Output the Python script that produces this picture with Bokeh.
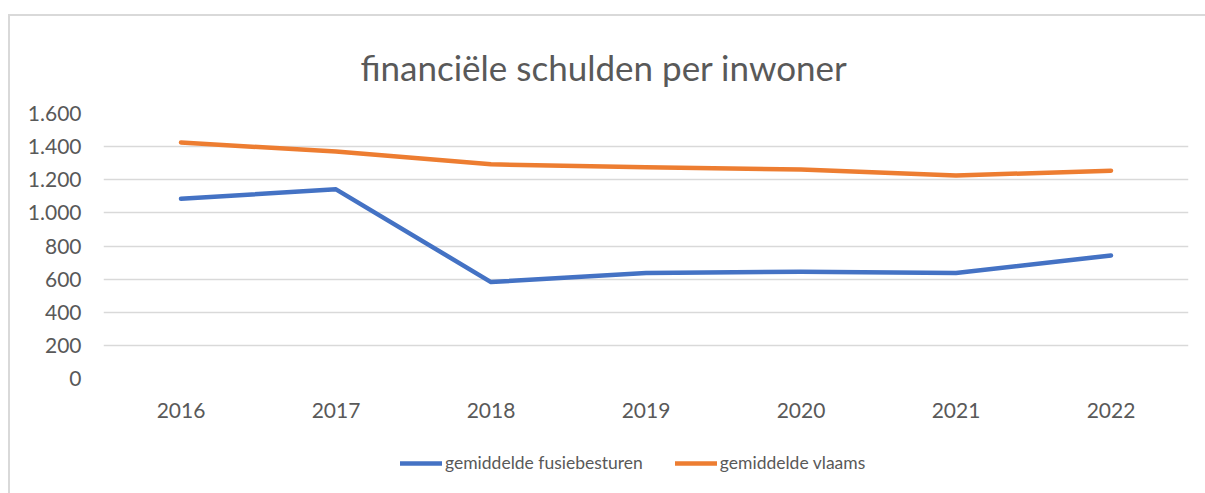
from bokeh.plotting import figure
from bokeh.layouts import column
from bokeh.models import Range1d, FixedTicker, Legend, LegendItem, ColumnDataSource
from bokeh.embed import file_html
from bokeh.resources import INLINE

# ---- data ----
years = ["2016", "2017", "2018", "2019", "2020", "2021", "2022"]
fusie = [1085, 1142, 582, 637, 645, 637, 743]
vlaams = [1425, 1370, 1293, 1276, 1262, 1225, 1255]
series_names = ["gemiddelde fusiebesturen", "gemiddelde vlaams"]
y_ticks = [0, 200, 400, 600, 800, 1000, 1200, 1400, 1600]
y_tick_labels = ["0", "200", "400", "600", "800", "1.000", "1.200", "1.400", "1.600"]
title_text = "financiële schulden per inwoner"

FONT = "Lato"
TXT = "#595959"
GRID = "#D9D9D9"
BLUE = "#4472C4"
ORANGE = "#ED7D31"

src = ColumnDataSource(dict(year=years, fusie=fusie, vlaams=vlaams))

# ---- main chart ----
p = figure(
    x_range=years,
    y_range=Range1d(0, 1600),
    frame_width=1085, frame_height=265,
    min_border_left=93, min_border_right=17, min_border_top=97, min_border_bottom=60,
    output_backend="svg", toolbar_location=None,
)
p.outline_line_color = None
p.background_fill_color = "white"
p.border_fill_color = "white"

p.line("year", "fusie", source=src, line_width=4.5, line_color=BLUE,
       line_cap="round", line_join="round")
p.line("year", "vlaams", source=src, line_width=4.5, line_color=ORANGE,
       line_cap="round", line_join="round")

p.xgrid.grid_line_color = None
p.ygrid.grid_line_color = GRID
p.ygrid.grid_line_width = 1.5
p.yaxis.ticker = FixedTicker(ticks=y_ticks)
p.yaxis.major_label_overrides = {t: l for t, l in zip(y_ticks, y_tick_labels)}
for ax in (p.xaxis[0], p.yaxis[0]):
    ax.axis_line_color = None
    ax.major_tick_line_color = None
    ax.minor_tick_line_color = None
    ax.major_tick_in = 0
    ax.major_tick_out = 0
    ax.major_label_text_font = FONT
    ax.major_label_text_font_size = "21px"
    ax.major_label_text_color = TXT
p.yaxis.major_label_standoff = 22
p.xaxis.major_label_standoff = 24

p.title.text = title_text
p.title.text_font = FONT
p.title.text_font_size = "35px"
p.title.text_font_style = "normal"
p.title.text_color = TXT
p.title.align = "left"
p.title.offset = 236
p.title.padding = 21

# ---- legend strip (same series, lines hidden; only the legend shows) ----
q = figure(
    x_range=years, y_range=Range1d(0, 1600),
    width=1195, height=55,
    min_border_left=0, min_border_right=0, min_border_top=0, min_border_bottom=0,
    x_axis_location=None, y_axis_location=None,
    output_backend="svg", toolbar_location=None,
)
q.grid.visible = False
q.outline_line_color = None
q.background_fill_color = "white"
q.border_fill_color = "white"
q1 = q.line("year", "fusie", source=src, line_width=4.5, line_color=BLUE,
            line_cap="round", visible=False)
q2 = q.line("year", "vlaams", source=src, line_width=4.5, line_color=ORANGE,
            line_cap="round", visible=False)

legend = Legend(
    items=[LegendItem(label=series_names[0], renderers=[q1]),
           LegendItem(label=series_names[1], renderers=[q2])],
    orientation="horizontal",
    location=(297, 20),
    glyph_width=42, glyph_height=20, label_standoff=3, spacing=32,
    padding=0, margin=0,
    border_line_color=None, background_fill_alpha=0,
    inactive_fill_alpha=0,
    label_text_font=FONT, label_text_font_size="17.5px", label_text_color=TXT,
)
q.add_layout(legend, "center")

layout = column(p, q, spacing=0)
layout.styles = {"border-top": "2px solid #D9D9D9", "border-left": "2px solid #D9D9D9",
                 "margin-left": "8px", "margin-top": "14px", "background-color": "white"}

open("out.html", "w").write(file_html(layout, INLINE))
